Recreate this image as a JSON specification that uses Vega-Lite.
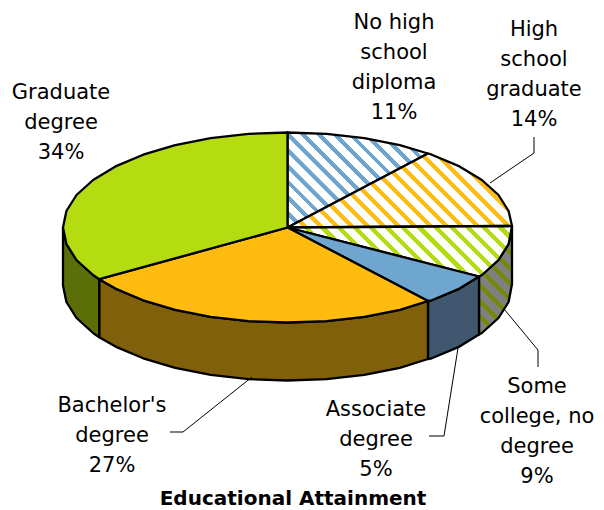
{"$schema":"https://vega.github.io/schema/vega-lite/v6.json","width":604,"height":510,"autosize":{"type":"none"},"padding":0,"background":"white","config":{"view":{"stroke":null}},
"title":{"text":"Educational Attainment","orient":"bottom","anchor":"middle","dx":-9,"dy":1,"offset":-22,"font":"DejaVu Sans","fontSize":20,"fontWeight":"bold","color":"#000"},
"datasets":{"faces":[
{"part":"side-some","i":0,"x":512,"y":226},{"part":"side-some","i":1,"x":508.6,"y":244},{"part":"side-some","i":2,"x":498.5,"y":260},{"part":"side-some","i":3,"x":481.9,"y":275},{"part":"side-some","i":4,"x":479,"y":276.5},{"part":"side-some","i":5,"x":479,"y":334.5},{"part":"side-some","i":6,"x":481.9,"y":333},{"part":"side-some","i":7,"x":498.5,"y":318},{"part":"side-some","i":8,"x":508.6,"y":302},{"part":"side-some","i":9,"x":512,"y":284},{"part":"side-some","i":10,"x":512,"y":226},
{"part":"side-assoc","i":0,"x":479,"y":276.5},{"part":"side-assoc","i":1,"x":459.5,"y":288.6},{"part":"side-assoc","i":2,"x":431.8,"y":300.3},{"part":"side-assoc","i":3,"x":428,"y":301},{"part":"side-assoc","i":4,"x":428,"y":359},{"part":"side-assoc","i":5,"x":431.8,"y":358.3},{"part":"side-assoc","i":6,"x":459.5,"y":346.6},{"part":"side-assoc","i":7,"x":479,"y":334.5},{"part":"side-assoc","i":8,"x":479,"y":276.5},
{"part":"side-bach","i":0,"x":428,"y":301},{"part":"side-bach","i":1,"x":399.8,"y":309.8},{"part":"side-bach","i":2,"x":364.3,"y":316.8},{"part":"side-bach","i":3,"x":326.5,"y":321.1},{"part":"side-bach","i":4,"x":287.5,"y":322.5},{"part":"side-bach","i":5,"x":248.5,"y":321.1},{"part":"side-bach","i":6,"x":210.7,"y":316.8},{"part":"side-bach","i":7,"x":175.2,"y":309.8},{"part":"side-bach","i":8,"x":143.2,"y":300.3},{"part":"side-bach","i":9,"x":115.5,"y":288.6},{"part":"side-bach","i":10,"x":99.2,"y":279.2},{"part":"side-bach","i":11,"x":99.2,"y":337.2},{"part":"side-bach","i":12,"x":115.5,"y":346.6},{"part":"side-bach","i":13,"x":143.2,"y":358.3},{"part":"side-bach","i":14,"x":175.2,"y":367.8},{"part":"side-bach","i":15,"x":210.7,"y":374.8},{"part":"side-bach","i":16,"x":248.5,"y":379.1},{"part":"side-bach","i":17,"x":287.5,"y":380.5},{"part":"side-bach","i":18,"x":326.5,"y":379.1},{"part":"side-bach","i":19,"x":364.3,"y":374.8},{"part":"side-bach","i":20,"x":399.8,"y":367.8},{"part":"side-bach","i":21,"x":428,"y":359},{"part":"side-bach","i":22,"x":428,"y":301},
{"part":"side-grad","i":0,"x":99.2,"y":279.2},{"part":"side-grad","i":1,"x":93.1,"y":275},{"part":"side-grad","i":2,"x":76.5,"y":260},{"part":"side-grad","i":3,"x":66.4,"y":244},{"part":"side-grad","i":4,"x":63,"y":227.5},{"part":"side-grad","i":5,"x":63,"y":285.5},{"part":"side-grad","i":6,"x":66.4,"y":302},{"part":"side-grad","i":7,"x":76.5,"y":318},{"part":"side-grad","i":8,"x":93.1,"y":333},{"part":"side-grad","i":9,"x":99.2,"y":337.2},{"part":"side-grad","i":10,"x":99.2,"y":279.2},
{"part":"top-assoc","i":0,"x":287.5,"y":227.5},{"part":"top-assoc","i":1,"x":479,"y":276.5},{"part":"top-assoc","i":2,"x":459.5,"y":288.6},{"part":"top-assoc","i":3,"x":431.8,"y":300.3},{"part":"top-assoc","i":4,"x":428,"y":301},{"part":"top-assoc","i":5,"x":287.5,"y":227.5},
{"part":"top-bach","i":0,"x":287.5,"y":227.5},{"part":"top-bach","i":1,"x":428,"y":301},{"part":"top-bach","i":2,"x":399.8,"y":309.8},{"part":"top-bach","i":3,"x":364.3,"y":316.8},{"part":"top-bach","i":4,"x":326.5,"y":321.1},{"part":"top-bach","i":5,"x":287.5,"y":322.5},{"part":"top-bach","i":6,"x":248.5,"y":321.1},{"part":"top-bach","i":7,"x":210.7,"y":316.8},{"part":"top-bach","i":8,"x":175.2,"y":309.8},{"part":"top-bach","i":9,"x":143.2,"y":300.3},{"part":"top-bach","i":10,"x":115.5,"y":288.6},{"part":"top-bach","i":11,"x":99.2,"y":279.2},{"part":"top-bach","i":12,"x":287.5,"y":227.5},
{"part":"top-grad","i":0,"x":287.5,"y":227.5},{"part":"top-grad","i":1,"x":99.2,"y":279.2},{"part":"top-grad","i":2,"x":93.1,"y":275},{"part":"top-grad","i":3,"x":76.5,"y":260},{"part":"top-grad","i":4,"x":66.4,"y":244},{"part":"top-grad","i":5,"x":63,"y":227.5},{"part":"top-grad","i":6,"x":66.4,"y":211},{"part":"top-grad","i":7,"x":76.5,"y":195},{"part":"top-grad","i":8,"x":93.1,"y":180},{"part":"top-grad","i":9,"x":115.5,"y":166.4},{"part":"top-grad","i":10,"x":143.2,"y":154.7},{"part":"top-grad","i":11,"x":175.2,"y":145.2},{"part":"top-grad","i":12,"x":210.7,"y":138.2},{"part":"top-grad","i":13,"x":248.5,"y":133.9},{"part":"top-grad","i":14,"x":287.5,"y":132.5},{"part":"top-grad","i":15,"x":287.5,"y":227.5},
{"part":"top-nohs","i":0,"x":287.5,"y":227.5},{"part":"top-nohs","i":1,"x":287.5,"y":132.5},{"part":"top-nohs","i":2,"x":326.5,"y":133.9},{"part":"top-nohs","i":3,"x":364.3,"y":138.2},{"part":"top-nohs","i":4,"x":399.8,"y":145.2},{"part":"top-nohs","i":5,"x":428,"y":153.5},{"part":"top-nohs","i":6,"x":287.5,"y":227.5},
{"part":"top-hs","i":0,"x":287.5,"y":227.5},{"part":"top-hs","i":1,"x":428,"y":153.5},{"part":"top-hs","i":2,"x":431.8,"y":154.7},{"part":"top-hs","i":3,"x":459.5,"y":166.4},{"part":"top-hs","i":4,"x":481.9,"y":180},{"part":"top-hs","i":5,"x":498.5,"y":195},{"part":"top-hs","i":6,"x":508.6,"y":211},{"part":"top-hs","i":7,"x":512,"y":226},{"part":"top-hs","i":8,"x":287.5,"y":227.5},
{"part":"top-some","i":0,"x":287.5,"y":227.5},{"part":"top-some","i":1,"x":512,"y":226},{"part":"top-some","i":2,"x":508.6,"y":244},{"part":"top-some","i":3,"x":498.5,"y":260},{"part":"top-some","i":4,"x":481.9,"y":275},{"part":"top-some","i":5,"x":479,"y":276.5},{"part":"top-some","i":6,"x":287.5,"y":227.5}
],
"leaders":[
{"k":"hs","i":0,"x":534,"y":137},{"k":"hs","i":1,"x":534,"y":153},{"k":"hs","i":2,"x":490,"y":183},
{"k":"some","i":0,"x":504,"y":309},{"k":"some","i":1,"x":538,"y":350},{"k":"some","i":2,"x":538,"y":367},
{"k":"assoc","i":0,"x":458,"y":348},{"k":"assoc","i":1,"x":444,"y":436},{"k":"assoc","i":2,"x":429,"y":436},
{"k":"bach","i":0,"x":252,"y":377},{"k":"bach","i":1,"x":183,"y":432},{"k":"bach","i":2,"x":170,"y":432}
],
"labels":[
{"label":"Graduate\ndegree\n34%","x":61,"y":93},
{"label":"No high\nschool\ndiploma\n11%","x":394,"y":23},
{"label":"High\nschool\ngraduate\n14%","x":534,"y":30},
{"label":"Some\ncollege, no\ndegree\n9%","x":537,"y":387},
{"label":"Associate\ndegree\n5%","x":376,"y":410},
{"label":"Bachelor's\ndegree\n27%","x":112,"y":406}
]},
"encoding":{"x":{"field":"x","type":"quantitative","axis":null,"scale":{"domain":[0,604],"nice":false,"zero":false}},"y":{"field":"y","type":"quantitative","axis":null,"scale":{"domain":[510,0],"nice":false,"zero":false}}},
"layer":[
{"data":{"name":"faces"},"transform":[{"filter":"datum.part=='side-some'"}],"mark":{"type":"line","stroke":"#000","strokeWidth":2.3,"strokeJoin":"round","fill":{"gradient":"linear","x1":0,"y1":1,"x2":0.3631,"y2":-0.1937,"stops":[{"offset":0,"color":"#76880a"},{"offset":0.042,"color":"#76880a"},{"offset":0.042,"color":"#808080"},{"offset":0.1111,"color":"#808080"},{"offset":0.1111,"color":"#76880a"},{"offset":0.1531,"color":"#76880a"},{"offset":0.1531,"color":"#808080"},{"offset":0.2222,"color":"#808080"},{"offset":0.2222,"color":"#76880a"},{"offset":0.2642,"color":"#76880a"},{"offset":0.2642,"color":"#808080"},{"offset":0.3333,"color":"#808080"},{"offset":0.3333,"color":"#76880a"},{"offset":0.3753,"color":"#76880a"},{"offset":0.3753,"color":"#808080"},{"offset":0.4444,"color":"#808080"},{"offset":0.4444,"color":"#76880a"},{"offset":0.4864,"color":"#76880a"},{"offset":0.4864,"color":"#808080"},{"offset":0.5556,"color":"#808080"},{"offset":0.5556,"color":"#76880a"},{"offset":0.5976,"color":"#76880a"},{"offset":0.5976,"color":"#808080"},{"offset":0.6667,"color":"#808080"},{"offset":0.6667,"color":"#76880a"},{"offset":0.7087,"color":"#76880a"},{"offset":0.7087,"color":"#808080"},{"offset":0.7778,"color":"#808080"},{"offset":0.7778,"color":"#76880a"},{"offset":0.8198,"color":"#76880a"},{"offset":0.8198,"color":"#808080"},{"offset":0.8889,"color":"#808080"},{"offset":0.8889,"color":"#76880a"},{"offset":0.9309,"color":"#76880a"},{"offset":0.9309,"color":"#808080"},{"offset":1,"color":"#808080"}]}},"encoding":{"order":{"field":"i","type":"quantitative"}}},
{"data":{"name":"faces"},"transform":[{"filter":"datum.part=='side-assoc'"}],"mark":{"type":"line","stroke":"#000","strokeWidth":2.3,"strokeJoin":"round","fill":"#3f5870"},"encoding":{"order":{"field":"i","type":"quantitative"}}},
{"data":{"name":"faces"},"transform":[{"filter":"datum.part=='side-bach'"}],"mark":{"type":"line","stroke":"#000","strokeWidth":2.3,"strokeJoin":"round","fill":"#80600a"},"encoding":{"order":{"field":"i","type":"quantitative"}}},
{"data":{"name":"faces"},"transform":[{"filter":"datum.part=='side-grad'"}],"mark":{"type":"line","stroke":"#000","strokeWidth":2.3,"strokeJoin":"round","fill":"#5b6e08"},"encoding":{"order":{"field":"i","type":"quantitative"}}},
{"data":{"name":"faces"},"transform":[{"filter":"datum.part=='top-nohs'"}],"mark":{"type":"line","stroke":"#000","strokeWidth":2.3,"strokeJoin":"round","fill":{"gradient":"linear","x1":-0.0285,"y1":1,"x2":1.1218,"y2":0.2222,"stops":[{"offset":0,"color":"#6fa6cf"},{"offset":0.025,"color":"#6fa6cf"},{"offset":0.025,"color":"#fff"},{"offset":0.0667,"color":"#fff"},{"offset":0.0667,"color":"#6fa6cf"},{"offset":0.0917,"color":"#6fa6cf"},{"offset":0.0917,"color":"#fff"},{"offset":0.1333,"color":"#fff"},{"offset":0.1333,"color":"#6fa6cf"},{"offset":0.1583,"color":"#6fa6cf"},{"offset":0.1583,"color":"#fff"},{"offset":0.2,"color":"#fff"},{"offset":0.2,"color":"#6fa6cf"},{"offset":0.225,"color":"#6fa6cf"},{"offset":0.225,"color":"#fff"},{"offset":0.2667,"color":"#fff"},{"offset":0.2667,"color":"#6fa6cf"},{"offset":0.2917,"color":"#6fa6cf"},{"offset":0.2917,"color":"#fff"},{"offset":0.3333,"color":"#fff"},{"offset":0.3333,"color":"#6fa6cf"},{"offset":0.3583,"color":"#6fa6cf"},{"offset":0.3583,"color":"#fff"},{"offset":0.4,"color":"#fff"},{"offset":0.4,"color":"#6fa6cf"},{"offset":0.425,"color":"#6fa6cf"},{"offset":0.425,"color":"#fff"},{"offset":0.4667,"color":"#fff"},{"offset":0.4667,"color":"#6fa6cf"},{"offset":0.4917,"color":"#6fa6cf"},{"offset":0.4917,"color":"#fff"},{"offset":0.5333,"color":"#fff"},{"offset":0.5333,"color":"#6fa6cf"},{"offset":0.5583,"color":"#6fa6cf"},{"offset":0.5583,"color":"#fff"},{"offset":0.6,"color":"#fff"},{"offset":0.6,"color":"#6fa6cf"},{"offset":0.625,"color":"#6fa6cf"},{"offset":0.625,"color":"#fff"},{"offset":0.6667,"color":"#fff"},{"offset":0.6667,"color":"#6fa6cf"},{"offset":0.6917,"color":"#6fa6cf"},{"offset":0.6917,"color":"#fff"},{"offset":0.7333,"color":"#fff"},{"offset":0.7333,"color":"#6fa6cf"},{"offset":0.7583,"color":"#6fa6cf"},{"offset":0.7583,"color":"#fff"},{"offset":0.8,"color":"#fff"},{"offset":0.8,"color":"#6fa6cf"},{"offset":0.825,"color":"#6fa6cf"},{"offset":0.825,"color":"#fff"},{"offset":0.8667,"color":"#fff"},{"offset":0.8667,"color":"#6fa6cf"},{"offset":0.8917,"color":"#6fa6cf"},{"offset":0.8917,"color":"#fff"},{"offset":0.9333,"color":"#fff"},{"offset":0.9333,"color":"#6fa6cf"},{"offset":0.9583,"color":"#6fa6cf"},{"offset":0.9583,"color":"#fff"},{"offset":1,"color":"#fff"}]}},"encoding":{"order":{"field":"i","type":"quantitative"}}},
{"data":{"name":"faces"},"transform":[{"filter":"datum.part=='top-hs'"}],"mark":{"type":"line","stroke":"#000","strokeWidth":2.3,"strokeJoin":"round","fill":{"gradient":"linear","x1":0,"y1":1,"x2":1.1993,"y2":0.6047,"stops":[{"offset":0,"color":"#ffbc12"},{"offset":0.02,"color":"#ffbc12"},{"offset":0.02,"color":"#fff"},{"offset":0.0526,"color":"#fff"},{"offset":0.0526,"color":"#ffbc12"},{"offset":0.0726,"color":"#ffbc12"},{"offset":0.0726,"color":"#fff"},{"offset":0.1053,"color":"#fff"},{"offset":0.1053,"color":"#ffbc12"},{"offset":0.1253,"color":"#ffbc12"},{"offset":0.1253,"color":"#fff"},{"offset":0.1579,"color":"#fff"},{"offset":0.1579,"color":"#ffbc12"},{"offset":0.1779,"color":"#ffbc12"},{"offset":0.1779,"color":"#fff"},{"offset":0.2105,"color":"#fff"},{"offset":0.2105,"color":"#ffbc12"},{"offset":0.2305,"color":"#ffbc12"},{"offset":0.2305,"color":"#fff"},{"offset":0.2632,"color":"#fff"},{"offset":0.2632,"color":"#ffbc12"},{"offset":0.2832,"color":"#ffbc12"},{"offset":0.2832,"color":"#fff"},{"offset":0.3158,"color":"#fff"},{"offset":0.3158,"color":"#ffbc12"},{"offset":0.3358,"color":"#ffbc12"},{"offset":0.3358,"color":"#fff"},{"offset":0.3684,"color":"#fff"},{"offset":0.3684,"color":"#ffbc12"},{"offset":0.3884,"color":"#ffbc12"},{"offset":0.3884,"color":"#fff"},{"offset":0.4211,"color":"#fff"},{"offset":0.4211,"color":"#ffbc12"},{"offset":0.4411,"color":"#ffbc12"},{"offset":0.4411,"color":"#fff"},{"offset":0.4737,"color":"#fff"},{"offset":0.4737,"color":"#ffbc12"},{"offset":0.4937,"color":"#ffbc12"},{"offset":0.4937,"color":"#fff"},{"offset":0.5263,"color":"#fff"},{"offset":0.5263,"color":"#ffbc12"},{"offset":0.5463,"color":"#ffbc12"},{"offset":0.5463,"color":"#fff"},{"offset":0.5789,"color":"#fff"},{"offset":0.5789,"color":"#ffbc12"},{"offset":0.5989,"color":"#ffbc12"},{"offset":0.5989,"color":"#fff"},{"offset":0.6316,"color":"#fff"},{"offset":0.6316,"color":"#ffbc12"},{"offset":0.6516,"color":"#ffbc12"},{"offset":0.6516,"color":"#fff"},{"offset":0.6842,"color":"#fff"},{"offset":0.6842,"color":"#ffbc12"},{"offset":0.7042,"color":"#ffbc12"},{"offset":0.7042,"color":"#fff"},{"offset":0.7368,"color":"#fff"},{"offset":0.7368,"color":"#ffbc12"},{"offset":0.7568,"color":"#ffbc12"},{"offset":0.7568,"color":"#fff"},{"offset":0.7895,"color":"#fff"},{"offset":0.7895,"color":"#ffbc12"},{"offset":0.8095,"color":"#ffbc12"},{"offset":0.8095,"color":"#fff"},{"offset":0.8421,"color":"#fff"},{"offset":0.8421,"color":"#ffbc12"},{"offset":0.8621,"color":"#ffbc12"},{"offset":0.8621,"color":"#fff"},{"offset":0.8947,"color":"#fff"},{"offset":0.8947,"color":"#ffbc12"},{"offset":0.9147,"color":"#ffbc12"},{"offset":0.9147,"color":"#fff"},{"offset":0.9474,"color":"#fff"},{"offset":0.9474,"color":"#ffbc12"},{"offset":0.9674,"color":"#ffbc12"},{"offset":0.9674,"color":"#fff"},{"offset":1,"color":"#fff"}]}},"encoding":{"order":{"field":"i","type":"quantitative"}}},
{"data":{"name":"faces"},"transform":[{"filter":"datum.part=='top-some'"}],"mark":{"type":"line","stroke":"#000","strokeWidth":2.3,"strokeJoin":"round","fill":{"gradient":"linear","x1":0,"y1":1,"x2":1.166,"y2":0.7377,"stops":[{"offset":0,"color":"#b5dc10"},{"offset":0.0224,"color":"#b5dc10"},{"offset":0.0224,"color":"#fff"},{"offset":0.0588,"color":"#fff"},{"offset":0.0588,"color":"#b5dc10"},{"offset":0.0812,"color":"#b5dc10"},{"offset":0.0812,"color":"#fff"},{"offset":0.1176,"color":"#fff"},{"offset":0.1176,"color":"#b5dc10"},{"offset":0.14,"color":"#b5dc10"},{"offset":0.14,"color":"#fff"},{"offset":0.1765,"color":"#fff"},{"offset":0.1765,"color":"#b5dc10"},{"offset":0.1989,"color":"#b5dc10"},{"offset":0.1989,"color":"#fff"},{"offset":0.2353,"color":"#fff"},{"offset":0.2353,"color":"#b5dc10"},{"offset":0.2577,"color":"#b5dc10"},{"offset":0.2577,"color":"#fff"},{"offset":0.2941,"color":"#fff"},{"offset":0.2941,"color":"#b5dc10"},{"offset":0.3165,"color":"#b5dc10"},{"offset":0.3165,"color":"#fff"},{"offset":0.3529,"color":"#fff"},{"offset":0.3529,"color":"#b5dc10"},{"offset":0.3753,"color":"#b5dc10"},{"offset":0.3753,"color":"#fff"},{"offset":0.4118,"color":"#fff"},{"offset":0.4118,"color":"#b5dc10"},{"offset":0.4342,"color":"#b5dc10"},{"offset":0.4342,"color":"#fff"},{"offset":0.4706,"color":"#fff"},{"offset":0.4706,"color":"#b5dc10"},{"offset":0.493,"color":"#b5dc10"},{"offset":0.493,"color":"#fff"},{"offset":0.5294,"color":"#fff"},{"offset":0.5294,"color":"#b5dc10"},{"offset":0.5518,"color":"#b5dc10"},{"offset":0.5518,"color":"#fff"},{"offset":0.5882,"color":"#fff"},{"offset":0.5882,"color":"#b5dc10"},{"offset":0.6106,"color":"#b5dc10"},{"offset":0.6106,"color":"#fff"},{"offset":0.6471,"color":"#fff"},{"offset":0.6471,"color":"#b5dc10"},{"offset":0.6695,"color":"#b5dc10"},{"offset":0.6695,"color":"#fff"},{"offset":0.7059,"color":"#fff"},{"offset":0.7059,"color":"#b5dc10"},{"offset":0.7283,"color":"#b5dc10"},{"offset":0.7283,"color":"#fff"},{"offset":0.7647,"color":"#fff"},{"offset":0.7647,"color":"#b5dc10"},{"offset":0.7871,"color":"#b5dc10"},{"offset":0.7871,"color":"#fff"},{"offset":0.8235,"color":"#fff"},{"offset":0.8235,"color":"#b5dc10"},{"offset":0.8459,"color":"#b5dc10"},{"offset":0.8459,"color":"#fff"},{"offset":0.8824,"color":"#fff"},{"offset":0.8824,"color":"#b5dc10"},{"offset":0.9048,"color":"#b5dc10"},{"offset":0.9048,"color":"#fff"},{"offset":0.9412,"color":"#fff"},{"offset":0.9412,"color":"#b5dc10"},{"offset":0.9636,"color":"#b5dc10"},{"offset":0.9636,"color":"#fff"},{"offset":1,"color":"#fff"}]}},"encoding":{"order":{"field":"i","type":"quantitative"}}},
{"data":{"name":"faces"},"transform":[{"filter":"datum.part=='top-assoc'"}],"mark":{"type":"line","stroke":"#000","strokeWidth":2.3,"strokeJoin":"round","fill":"#6fa6cf"},"encoding":{"order":{"field":"i","type":"quantitative"}}},
{"data":{"name":"faces"},"transform":[{"filter":"datum.part=='top-bach'"}],"mark":{"type":"line","stroke":"#000","strokeWidth":2.3,"strokeJoin":"round","fill":"#ffbc0f"},"encoding":{"order":{"field":"i","type":"quantitative"}}},
{"data":{"name":"faces"},"transform":[{"filter":"datum.part=='top-grad'"}],"mark":{"type":"line","stroke":"#000","strokeWidth":2.3,"strokeJoin":"round","fill":"#b5dc10"},"encoding":{"order":{"field":"i","type":"quantitative"}}},
{"data":{"name":"leaders"},"mark":{"type":"line","stroke":"#000","strokeWidth":1},"encoding":{"detail":{"field":"k"},"order":{"field":"i","type":"quantitative"}}},
{"data":{"name":"labels"},"mark":{"type":"text","font":"DejaVu Sans","fontSize":21,"lineBreak":"\n","lineHeight":30,"align":"center","baseline":"middle","color":"#000"},"encoding":{"text":{"field":"label"}}}
]}
